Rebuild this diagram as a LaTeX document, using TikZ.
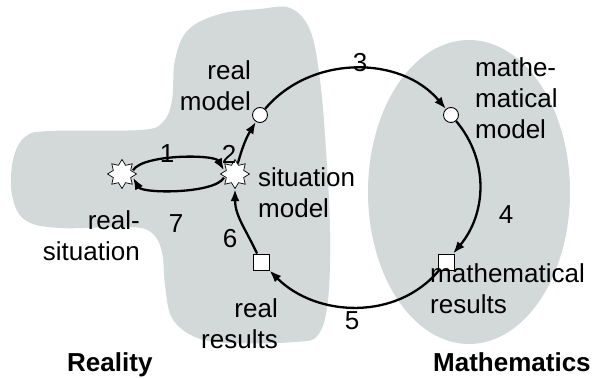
\documentclass[tikz,border=0pt]{standalone}
\usepackage{fontspec}
\setmainfont{Liberation Sans}
\usetikzlibrary{arrows.meta,shapes.geometric}
\definecolor{blobgray}{RGB}{211,216,216}

\begin{document}
\begin{tikzpicture}[x=1pt,y=1pt,>={Latex[length=12pt,width=9pt]},
  txt/.style={font=\fontsize{26}{31}\selectfont,inner sep=0pt},
  ttl/.style={font=\fontsize{26}{31}\selectfont\bfseries,inner sep=0pt},
  sit/.style={star,star points=8,star point ratio=1.55,draw,fill=white,
    minimum size=29pt,inner sep=0pt,line width=0.7pt},
  mdl/.style={circle,draw,fill=white,minimum size=15pt,inner sep=0pt,line width=0.9pt},
  res/.style={rectangle,draw,fill=white,minimum size=16pt,inner sep=0pt,line width=0.9pt},
  conn/.style={->,line width=2.3pt}]
  \useasboundingbox (0,0) rectangle (593,378);

  \fill[blobgray] plot[smooth cycle,tension=0.6] coordinates {
    (290,370) (310,348) (320,298) (326,228) (330,148) (328,78) (318,43)
    (295,36) (230,35) (195,41) (172,60) (165,93) (162,126) (152,145)
    (130,151) (60,150) (25,158) (12,183) (13,218) (25,241) (50,247)
    (140,248) (163,256) (172,278) (175,318) (188,348) (220,364) (260,369)};
  \fill[blobgray] (469,186) ellipse [x radius=101,y radius=152];

  \node[sit] (ls) at (122,204) {};
  \node[sit] (sm) at (235,204) {};
  \node[mdl] (rm) at (260,263) {};
  \node[mdl] (mm) at (451,263) {};
  \node[res] (mr) at (446,116) {};
  \node[res] (rr) at (261,116) {};

  \node[txt,align=right,anchor=north east] (rstxt) at (140,168) {real-\\situation};
  \node[txt,align=left,anchor=north west] (smtxt) at (258,211) {situation\\model};
  \node[txt,align=right,anchor=north east] (rmtxt) at (251,318) {real\\model};
  \node[txt,align=left,anchor=north west] (mmtxt) at (475,321) {mathe-\\matical\\model};
  \node[txt,align=left,anchor=north west] (mrtxt) at (430,115) {mathematical\\results};
  \node[txt,align=right,anchor=north east] (rrtxt) at (278,80) {real\\results};
  \node[ttl,anchor=north west] (reality) at (67,26) {Reality};
  \node[ttl,anchor=north west] (maths) at (433,26) {Mathematics};

  \node[txt] (n1) at (167,224) {1};
  \node[txt] (n2) at (229,224) {2};
  \node[txt] (n3) at (360,315) {3};
  \node[txt] (n4) at (506,163) {4};
  \node[txt] (n5) at (352,57) {5};
  \node[txt] (n6) at (230,139) {6};
  \node[txt] (n7) at (176,154) {7};

  \draw[conn,shorten <=1pt,shorten >=1pt] (ls.15) to[out=60,in=120,looseness=0.55] (sm.165);
  \draw[conn,shorten <=1pt,shorten >=1pt] (sm.195) to[out=-120,in=-60,looseness=0.55] (ls.-15);
  \draw[conn] (sm) to[bend left=8] (rm);
  \draw[conn] (rm) to[out=50,in=130] (mm);
  \draw[conn] (mm) to[out=-50,in=50] (mr);
  \draw[conn] (mr) to[out=-130,in=-45] (rr);
  \draw[conn] (rr) to[out=115,in=-90] (sm);
\end{tikzpicture}
\end{document}
